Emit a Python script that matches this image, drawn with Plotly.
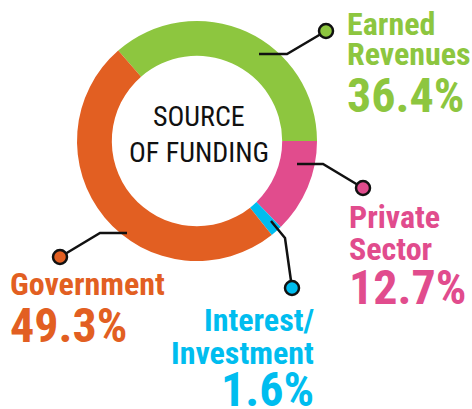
import plotly.graph_objects as go

W, H = 472, 409

sources = ["Earned Revenues", "Private Sector", "Interest/Investment", "Government"]
shares = [36.4, 12.7, 1.6, 49.3]
colors = ["#8DC63F", "#E14C8D", "#00BDEF", "#E25F22"]

# label lines per slice (name lines, percent)
name_lines = [["Earned", "Revenues"], ["Private", "Sector"], ["Interest/", "Investment"], ["Government"]]
pct_labels = [f"{v}%" for v in shares]

LABEL_FONT = "Roboto Condensed, DejaVu Sans Condensed, sans-serif"


def px(x):
    return x / W


def py(y):
    return 1 - y / H


# donut geometry in pixels
CX, CY, R = 197, 141, 120

fig = go.Figure(
    go.Pie(
        labels=sources,
        values=shares,
        sort=False,
        direction="clockwise",
        rotation=90 - shares[0] * 3.6,
        hole=0.71,
        marker=dict(colors=colors, line=dict(width=0)),
        textinfo="none",
        hoverinfo="label+percent",
        showlegend=False,
        domain=dict(x=[px(CX - R), px(CX + R)], y=[py(CY + R), py(CY - R)]),
    )
)

# label placement: (x, anchor, [cap-centre y of each name line], percent y)
label_pos = [
    (345, "left", [23.5, 54.5], 96),
    (347, "left", [216.5, 249], 287.5),
    (316, "right", [320, 352.5], 389.5),
    (8, "left", [284], 325),
]

annotations = []
for i, (x, anchor, ys, pct_y) in enumerate(label_pos):
    for line, y in zip(name_lines[i], ys):
        annotations.append(dict(
            x=px(x), y=py(y), xref="paper", yref="paper", text=f"<b>{line}</b>",
            showarrow=False, xanchor=anchor, yanchor="middle",
            font=dict(family=LABEL_FONT, size=32, color=colors[i]),
        ))
    annotations.append(dict(
        x=px(x), y=py(pct_y), xref="paper", yref="paper", text=f"<b>{pct_labels[i]}</b>",
        showarrow=False, xanchor=anchor, yanchor="middle",
        font=dict(family=LABEL_FONT, size=48, color=colors[i]),
    ))

for txt, y in [("SOURCE", 116.5), ("OF FUNDING", 152.5)]:
    annotations.append(dict(
        x=px(199), y=py(y), xref="paper", yref="paper", text=txt,
        showarrow=False, xanchor="center", yanchor="middle",
        font=dict(family=LABEL_FONT, size=28, color="#111111"),
    ))

# leader lines (pixel points) ending in a dot
leaders = [
    [(259, 54), (287, 54), (326, 31)],
    [(297, 164), (323, 164), (363, 188)],
    [(271, 221), (285, 238), (292, 288)],
    [(127, 233), (100, 233), (60, 257)],
]

shapes = []
DOT = 7
for i, pts in enumerate(leaders):
    path = "M " + " L ".join(f"{px(x)},{py(y)}" for x, y in pts)
    shapes.append(dict(type="path", path=path, xref="paper", yref="paper",
                       line=dict(color="#111111", width=2.5)))
    ex, ey = pts[-1]
    shapes.append(dict(type="circle", xref="paper", yref="paper",
                       x0=px(ex - DOT), x1=px(ex + DOT), y0=py(ey + DOT), y1=py(ey - DOT),
                       fillcolor=colors[i], line=dict(color="#111111", width=2.5)))

fig.update_layout(
    width=W,
    height=H,
    margin=dict(l=0, r=0, t=0, b=0),
    paper_bgcolor="white",
    plot_bgcolor="white",
    annotations=annotations,
    shapes=shapes,
)

fig.write_html("out.html", config={"displayModeBar": False},
               post_script="document.body.style.margin = '0';")
